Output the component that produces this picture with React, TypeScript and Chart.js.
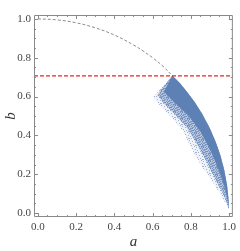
import React, { useEffect, useRef } from "react";
import { Chart, registerables } from "chart.js";

Chart.register(...registerables);

// Tick labels / tick positions
const majorTicks = [0, 0.2, 0.4, 0.6, 0.8, 1.0];
const minorTicks = [0.05, 0.1, 0.15, 0.25, 0.3, 0.35, 0.45, 0.5, 0.55, 0.65, 0.7, 0.75, 0.85, 0.9, 0.95];

// Dashed grey arc
const arcA = [0, 0.1, 0.2, 0.3, 0.4, 0.5, 0.55, 0.6, 0.65, 0.703];
const arcB = [1.0, 0.995, 0.98, 0.954, 0.917, 0.866, 0.835, 0.8, 0.76, 0.708];

// Red dashed horizontal line
const redLineA = [-0.02, 1.02];
const redLineB = [0.707, 0.707];

// Outer edge of the point cloud (tip -> bottom)
const outerA = [0.703, 0.74, 0.78, 0.82, 0.86, 0.9, 0.93, 0.955, 0.975, 0.99, 0.997, 1.0];
const outerB = [0.708, 0.672, 0.625, 0.572, 0.51, 0.436, 0.367, 0.296, 0.222, 0.141, 0.075, 0.02];

// Sparse fringe inner edge of the cloud (bottom -> tip)
const sparseA = [1.0, 0.97, 0.94, 0.9, 0.865, 0.83, 0.795, 0.76, 0.72, 0.677, 0.636, 0.605, 0.63, 0.665, 0.703];
const sparseB = [0.02, 0.07, 0.12, 0.183, 0.23, 0.285, 0.35, 0.42, 0.47, 0.516, 0.557, 0.598, 0.628, 0.665, 0.708];

// Medium-density inner edge (bottom -> tip)
const midA = [1.0, 0.978, 0.952, 0.915, 0.875, 0.83, 0.78, 0.72, 0.66, 0.625, 0.66, 0.703];
const midB = [0.02, 0.08, 0.13, 0.2, 0.28, 0.36, 0.44, 0.505, 0.565, 0.61, 0.655, 0.708];

// Dense core inner edge (bottom -> tip)
const denseA = [1.0, 0.99, 0.975, 0.945, 0.9, 0.85, 0.79, 0.72, 0.66, 0.703];
const denseB = [0.02, 0.08, 0.14, 0.224, 0.33, 0.42, 0.5, 0.565, 0.625, 0.708];

const blue = "rgb(94,129,181)";

// Fixed stipple layouts (styling only): pixel cells inside a 7x7 tile
const sparseDots = [[0, 0], [3, 1], [6, 2], [1, 3], [4, 4], [2, 5], [5, 6], [0, 5], [6, 5]];
const midDots = [[0, 0], [2, 0], [4, 1], [6, 1], [1, 2], [3, 2], [5, 3], [0, 3], [2, 4], [4, 4], [6, 4], [1, 5], [3, 6], [5, 6], [6, 6], [3, 4], [0, 6], [2, 2], [5, 0]];

function stipple(dots: number[][], alphaBase: string, dotColor: string) {
  const c = document.createElement("canvas");
  c.width = 7;
  c.height = 7;
  const g = c.getContext("2d")!;
  g.fillStyle = alphaBase;
  g.fillRect(0, 0, 7, 7);
  g.fillStyle = dotColor;
  dots.forEach(([dx, dy]) => g.fillRect(dx, dy, 1, 1));
  return g.createPattern(c, "repeat");
}

function pts(a: number[], b: number[]) {
  return a.map((v, i) => ({ x: v, y: b[i] }));
}

function region(inA: number[], inB: number[], color: any, order: number) {
  return {
    data: pts(outerA.concat(inA), outerB.concat(inB)),
    showLine: true,
    borderWidth: 0,
    borderColor: "rgba(0,0,0,0)",
    backgroundColor: color,
    fill: "shape",
    pointRadius: 0,
    order,
  };
}

const framePlugin = {
  id: "frameTicks",
  afterDatasetsDraw(chart: any) {
    const { ctx, chartArea, scales } = chart;
    const { left, right, top, bottom } = chartArea;
    const x = scales.x;
    const y = scales.y;
    ctx.save();
    ctx.strokeStyle = "#8a8a8a";
    ctx.lineWidth = 1;
    ctx.beginPath();
    ctx.rect(left + 0.5, top + 0.5, right - left - 1, bottom - top - 1);
    ctx.stroke();
    const drawTicks = (vals: number[], len: number) => {
      ctx.beginPath();
      vals.forEach((v) => {
        const px = Math.round(x.getPixelForValue(v)) + 0.5;
        ctx.moveTo(px, bottom);
        ctx.lineTo(px, bottom - len);
        ctx.moveTo(px, top);
        ctx.lineTo(px, top + len);
        const py = Math.round(y.getPixelForValue(v)) + 0.5;
        ctx.moveTo(left, py);
        ctx.lineTo(left + len, py);
        ctx.moveTo(right, py);
        ctx.lineTo(right - len, py);
      });
      ctx.stroke();
    };
    drawTicks(majorTicks, 4);
    drawTicks(minorTicks, 2);
    ctx.restore();
  },
  afterDraw(chart: any) {
    const { ctx, chartArea } = chart;
    const cx = (chartArea.left + chartArea.right) / 2;
    const cy = (chartArea.top + chartArea.bottom) / 2;
    ctx.save();
    ctx.fillStyle = "#333";
    ctx.font = "italic 15px 'Liberation Serif'";
    ctx.textAlign = "center";
    ctx.textBaseline = "middle";
    ctx.fillText("a", cx, 242);
    ctx.translate(11, cy);
    ctx.rotate(-Math.PI / 2);
    ctx.fillText("b", 0, 0);
    ctx.restore();
  },
};

export default function App() {
  const ref = useRef<HTMLCanvasElement>(null);
  useEffect(() => {
    if (!ref.current) return;
    const chart = new Chart(ref.current, {
      type: "scatter",
      data: {
        datasets: [
          {
            data: pts(redLineA, redLineB),
            showLine: true,
            borderColor: "rgb(230,40,40)",
            borderWidth: 1.3,
            borderDash: [4, 2],
            pointRadius: 0,
            order: 0,
          },
          {
            data: pts(arcA, arcB),
            showLine: true,
            borderColor: "#8c8c8c",
            borderWidth: 1,
            borderDash: [3, 2],
            tension: 0.4,
            pointRadius: 0,
            order: 1,
          },
          region(denseA, denseB, blue, 2),
          region(midA, midB, stipple(midDots, "rgba(94,129,181,0.4)", "rgba(94,129,181,0.7)"), 3),
          region(sparseA, sparseB, stipple(sparseDots, "rgba(94,129,181,0.1)", "rgba(94,129,181,0.55)"), 4),
        ],
      },
      options: {
        animation: false,
        responsive: false,
        maintainAspectRatio: false,
        layout: { padding: { top: 15, right: 4, left: 0, bottom: 0 } },
        plugins: { legend: { display: false }, tooltip: { enabled: false } },
        scales: {
          x: {
            type: "linear",
            min: -0.02,
            max: 1.02,
            grid: { display: false, drawTicks: false },
            border: { display: false },
            afterBuildTicks: (s: any) => {
              s.ticks = majorTicks.map((v) => ({ value: v }));
            },
            afterFit: (s: any) => {
              s.height = 34;
            },
            ticks: {
              padding: 4,
              maxRotation: 0,
              color: "#444",
              font: { family: "'Liberation Serif'", size: 11 },
              callback: (v: any) => Number(v).toFixed(1),
            },
          },
          y: {
            type: "linear",
            min: -0.02,
            max: 1.02,
            grid: { display: false, drawTicks: false },
            border: { display: false },
            afterBuildTicks: (s: any) => {
              s.ticks = majorTicks.map((v) => ({ value: v }));
            },
            afterFit: (s: any) => {
              s.width = 34;
            },
            ticks: {
              padding: 3,
              color: "#444",
              font: { family: "'Liberation Serif'", size: 11 },
              callback: (v: any) => Number(v).toFixed(1),
            },
          },
        },
      },
      plugins: [framePlugin],
    });
    return () => chart.destroy();
  }, []);
  return (
    <div style={{ position: "fixed", left: 0, top: 0, width: 240, height: 251, background: "#fff" }}>
      <canvas ref={ref} width={240} height={251} style={{ width: 240, height: 251 }} />
    </div>
  );
}
